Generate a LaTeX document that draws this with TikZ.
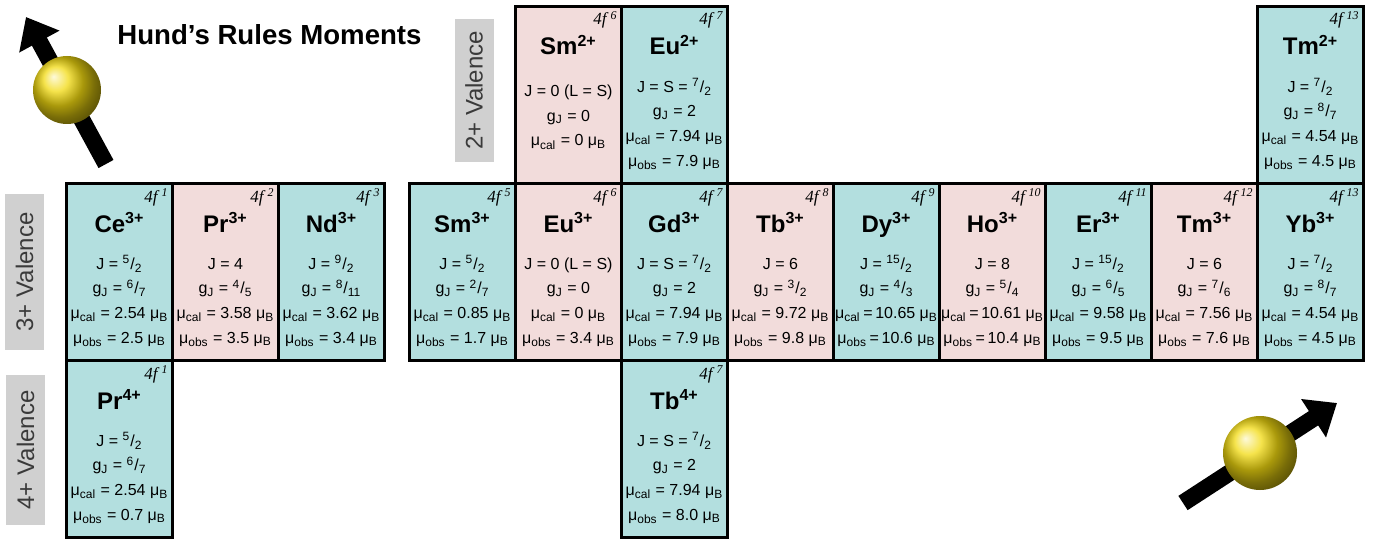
\documentclass[tikz,border=0pt]{standalone}
\usepackage{fontspec}
\setmainfont{Liberation Sans}
\newfontfamily\cfgfont{Liberation Serif}
\usepackage{tikz}
\usetikzlibrary{positioning, arrows.meta}

\definecolor{cellcyan}{HTML}{B3DFDF}
\definecolor{cellpink}{HTML}{F2DCDB}
\definecolor{valgray}{HTML}{D0D0D0}
\definecolor{valtext}{HTML}{3A3A3A}
\definecolor{spingold}{HTML}{F2DA10}

\newcommand{\frc}[2]{\textsuperscript{#1}/\textsubscript{#2}}
\newcommand{\gJ}{g\textsubscript{J}}
\newcommand{\mcal}{μ\textsubscript{cal}}
\newcommand{\mobs}{μ\textsubscript{obs}}
\newcommand{\muB}{μ\textsubscript{B}}

\tikzset{
  cell/.style={draw, line width=1.5pt, anchor=north west, minimum width=53pt, minimum height=88.5pt, inner sep=0pt},
  conf/.style={anchor=base east, inner sep=0pt, font=\cfgfont\itshape\fontsize{8.5}{10}\selectfont},
  ion/.style={anchor=base, inner sep=0pt, font=\bfseries\fontsize{12}{14}\selectfont},
  props/.style={align=center, inner sep=0pt, font=\fontsize{8}{12.3}\selectfont},
  valence/.style={fill=valgray, text=valtext, rotate=90, inner sep=0pt, minimum height=19.5pt, font=\fontsize{12}{14}\selectfont},
  spin/.style={line width=8.5pt, -{Triangle[length=14pt, width=22pt]}}
}

\begin{document}
\begin{tikzpicture}[x=0.5pt, y=-0.5pt]
  \useasboundingbox (0,0) rectangle (1380,540);

  % spins
  \coordinate (tailA) at (106,164);
  \coordinate (tipA) at (26,17);
  \draw[spin] (tailA) -- (tipA);
  \node[circle, shading=ball, ball color=spingold, minimum size=34pt, inner sep=0pt] (ballA) at (67,90) {};
  \coordinate (tailB) at (1183,503);
  \coordinate (tipB) at (1337,403);
  \draw[spin] (tailB) -- (tipB);
  \node[circle, shading=ball, ball color=spingold, minimum size=37pt, inner sep=0pt] (ballB) at (1260,453) {};

  \node[anchor=base west, inner sep=0pt, font=\bfseries\fontsize{13.8}{16}\selectfont] (title) at (117,45) {Hund’s Rules Moments};

  % valence labels
  \node[valence, minimum width=71.5pt] (val2) at (474,90.5) {2+ Valence};
  \node[valence, minimum width=78pt] (val3) at (24.5,272) {3+ Valence};
  \node[valence, minimum width=75pt] (val4) at (25.5,450) {4+ Valence};

  % 3+ row
  \node[cell, fill=cellcyan] (ce3) at (65,182) {};
  \node[below left=10pt and 2.5pt of ce3.north east, conf] {4f\/\textsuperscript{\,1}};
  \node[below=25pt of ce3.north, ion] {Ce\textsuperscript{3+}};
  \node[below=34.8pt of ce3.north, props] {\strut J = \frc{5}{2}\\ \gJ{} = \frc{6}{7}\\ \mcal{} = 2.54 \muB\\ \mobs{} = 2.5 \muB};

  \node[cell, fill=cellpink] (pr3) at (171,182) {};
  \node[below left=10pt and 2.5pt of pr3.north east, conf] {4f\/\textsuperscript{\,2}};
  \node[below=25pt of pr3.north, ion] {Pr\textsuperscript{3+}};
  \node[below=34.8pt of pr3.north, props] {\strut J = 4\\ \gJ{} = \frc{4}{5}\\ \mcal{} = 3.58 \muB\\ \mobs{} = 3.5 \muB};

  \node[cell, fill=cellcyan] (nd3) at (277,182) {};
  \node[below left=10pt and 2.5pt of nd3.north east, conf] {4f\/\textsuperscript{\,3}};
  \node[below=25pt of nd3.north, ion] {Nd\textsuperscript{3+}};
  \node[below=34.8pt of nd3.north, props] {\strut J = \frc{9}{2}\\ \gJ{} = \frc{8}{11}\\ \mcal{} = 3.62 \muB\\ \mobs{} = 3.4 \muB};

  \node[cell, fill=cellcyan] (sm3) at (408,182) {};
  \node[below left=10pt and 2.5pt of sm3.north east, conf] {4f\/\textsuperscript{\,5}};
  \node[below=25pt of sm3.north, ion] {Sm\textsuperscript{3+}};
  \node[below=34.8pt of sm3.north, props] {\strut J = \frc{5}{2}\\ \gJ{} = \frc{2}{7}\\ \mcal{} = 0.85 \muB\\ \mobs{} = 1.7 \muB};

  \node[cell, fill=cellpink] (eu3) at (514,182) {};
  \node[below left=10pt and 2.5pt of eu3.north east, conf] {4f\/\textsuperscript{\,6}};
  \node[below=25pt of eu3.north, ion] {Eu\textsuperscript{3+}};
  \node[below=34.8pt of eu3.north, props] {\strut J = 0 (L = S)\\ \gJ{} = 0\\ \mcal{} = 0 \muB\\ \mobs{} = 3.4 \muB};

  \node[cell, fill=cellcyan] (gd3) at (620,182) {};
  \node[below left=10pt and 2.5pt of gd3.north east, conf] {4f\/\textsuperscript{\,7}};
  \node[below=25pt of gd3.north, ion] {Gd\textsuperscript{3+}};
  \node[below=34.8pt of gd3.north, props] {\strut J = S = \frc{7}{2}\\ \gJ{} = 2\\ \mcal{} = 7.94 \muB\\ \mobs{} = 7.9 \muB};

  \node[cell, fill=cellpink] (tb3) at (726,182) {};
  \node[below left=10pt and 2.5pt of tb3.north east, conf] {4f\/\textsuperscript{\,8}};
  \node[below=25pt of tb3.north, ion] {Tb\textsuperscript{3+}};
  \node[below=34.8pt of tb3.north, props] {\strut J = 6\\ \gJ{} = \frc{3}{2}\\ \mcal{} = 9.72 \muB\\ \mobs{} = 9.8 \muB};

  \node[cell, fill=cellcyan] (dy3) at (832,182) {};
  \node[below left=10pt and 2.5pt of dy3.north east, conf] {4f\/\textsuperscript{\,9}};
  \node[below=25pt of dy3.north, ion] {Dy\textsuperscript{3+}};
  \node[below=34.8pt of dy3.north, props] {\strut J = \frc{15}{2}\\ \gJ{} = \frc{4}{3}\\ \mcal{}\,=\,10.65 \muB\\ \mobs{}\,=\,10.6 \muB};

  \node[cell, fill=cellpink] (ho3) at (938,182) {};
  \node[below left=10pt and 2.5pt of ho3.north east, conf] {4f\/\textsuperscript{\,10}};
  \node[below=25pt of ho3.north, ion] {Ho\textsuperscript{3+}};
  \node[below=34.8pt of ho3.north, props] {\strut J = 8\\ \gJ{} = \frc{5}{4}\\ \mcal{}\,=\,10.61 \muB\\ \mobs{}\,=\,10.4 \muB};

  \node[cell, fill=cellcyan] (er3) at (1044,182) {};
  \node[below left=10pt and 2.5pt of er3.north east, conf] {4f\/\textsuperscript{\,11}};
  \node[below=25pt of er3.north, ion] {Er\textsuperscript{3+}};
  \node[below=34.8pt of er3.north, props] {\strut J = \frc{15}{2}\\ \gJ{} = \frc{6}{5}\\ \mcal{} = 9.58 \muB\\ \mobs{} = 9.5 \muB};

  \node[cell, fill=cellpink] (tm3) at (1150,182) {};
  \node[below left=10pt and 2.5pt of tm3.north east, conf] {4f\/\textsuperscript{\,12}};
  \node[below=25pt of tm3.north, ion] {Tm\textsuperscript{3+}};
  \node[below=34.8pt of tm3.north, props] {\strut J = 6\\ \gJ{} = \frc{7}{6}\\ \mcal{} = 7.56 \muB\\ \mobs{} = 7.6 \muB};

  \node[cell, fill=cellcyan] (yb3) at (1256,182) {};
  \node[below left=10pt and 2.5pt of yb3.north east, conf] {4f\/\textsuperscript{\,13}};
  \node[below=25pt of yb3.north, ion] {Yb\textsuperscript{3+}};
  \node[below=34.8pt of yb3.north, props] {\strut J = \frc{7}{2}\\ \gJ{} = \frc{8}{7}\\ \mcal{} = 4.54 \muB\\ \mobs{} = 4.5 \muB};

  % 2+ row
  \node[cell, fill=cellpink] (sm2) at (514,5) {};
  \node[below left=10pt and 2.5pt of sm2.north east, conf] {4f\/\textsuperscript{\,6}};
  \node[below=25pt of sm2.north, ion] {Sm\textsuperscript{2+}};
  \node[below=37pt of sm2.north, props] {\strut J = 0 (L = S)\\ \gJ{} = 0\\ \mcal{} = 0 \muB};

  \node[cell, fill=cellcyan] (eu2) at (620,5) {};
  \node[below left=10pt and 2.5pt of eu2.north east, conf] {4f\/\textsuperscript{\,7}};
  \node[below=25pt of eu2.north, ion] {Eu\textsuperscript{2+}};
  \node[below=34.8pt of eu2.north, props] {\strut J = S = \frc{7}{2}\\ \gJ{} = 2\\ \mcal{} = 7.94 \muB\\ \mobs{} = 7.9 \muB};

  \node[cell, fill=cellcyan] (tm2) at (1256,5) {};
  \node[below left=10pt and 2.5pt of tm2.north east, conf] {4f\/\textsuperscript{\,13}};
  \node[below=25pt of tm2.north, ion] {Tm\textsuperscript{2+}};
  \node[below=34.8pt of tm2.north, props] {\strut J = \frc{7}{2}\\ \gJ{} = \frc{8}{7}\\ \mcal{} = 4.54 \muB\\ \mobs{} = 4.5 \muB};

  % 4+ row
  \node[cell, fill=cellcyan] (pr4) at (65,359) {};
  \node[below left=10pt and 2.5pt of pr4.north east, conf] {4f\/\textsuperscript{\,1}};
  \node[below=25pt of pr4.north, ion] {Pr\textsuperscript{4+}};
  \node[below=34.8pt of pr4.north, props] {\strut J = \frc{5}{2}\\ \gJ{} = \frc{6}{7}\\ \mcal{} = 2.54 \muB\\ \mobs{} = 0.7 \muB};

  \node[cell, fill=cellcyan] (tb4) at (620,359) {};
  \node[below left=10pt and 2.5pt of tb4.north east, conf] {4f\/\textsuperscript{\,7}};
  \node[below=25pt of tb4.north, ion] {Tb\textsuperscript{4+}};
  \node[below=34.8pt of tb4.north, props] {\strut J = S = \frc{7}{2}\\ \gJ{} = 2\\ \mcal{} = 7.94 \muB\\ \mobs{} = 8.0 \muB};
\end{tikzpicture}
\end{document}
